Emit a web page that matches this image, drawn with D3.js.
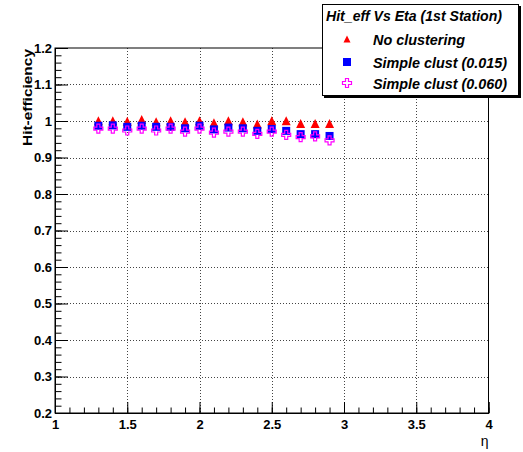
<!DOCTYPE html>
<html><head><meta charset="utf-8">
<script src="https://cdn.jsdelivr.net/npm/d3@7"></script>
<style>
body{margin:0;background:#fff}
svg{display:block}
text{font-family:"Liberation Sans",Arial,Helvetica,sans-serif}
</style>
</head><body><div id="chart"></div>
<script>
// ---- data ----
const eta = [1.3,1.4,1.5,1.6,1.7,1.8,1.9,2.0,2.1,2.2,2.3,2.4,2.5,2.6,2.7,2.8,2.9];
const noClust  = [1.001,1.001,0.999,1.004,0.998,1.001,0.998,1.001,0.995,1.001,0.998,0.992,1.001,1.001,0.993,0.993,0.993];
const clust015 = [0.987,0.988,0.984,0.987,0.984,0.984,0.980,0.987,0.977,0.982,0.980,0.973,0.978,0.973,0.964,0.964,0.959];
const clust060 = [0.979,0.979,0.974,0.979,0.974,0.979,0.971,0.979,0.968,0.971,0.971,0.965,0.971,0.962,0.956,0.958,0.947];
const xTicks = [1,1.5,2,2.5,3,3.5,4];
const yTicks = [0.2,0.3,0.4,0.5,0.6,0.7,0.8,0.9,1.0,1.1,1.2];
const seriesNames = ["No clustering","Simple clust (0.015)","Simple clust (0.060)"];
const seriesColors = ["#ff0000","#0000ff","#ff00ff"];
const legendTitle = "Hit_eff Vs Eta (1st Station)";
const xTitle = "η";
const yTitle = "Hit-efficiency";

// ---- layout ----
const W = 523, H = 452;
const L = 55, R = 488.5, T = 48, B = 413;
const svg = d3.select("#chart").append("svg").attr("width", W).attr("height", H);

const x = d3.scaleLinear().domain([1,4]).range([L,R]);
const y = d3.scaleLinear().domain([0.2,1.2]).range([B,T]);

// grid
const grid = svg.append("g").attr("stroke","#444").attr("stroke-width",1).attr("stroke-dasharray","1,2");
grid.selectAll("line.gx").data(xTicks.slice(1,-1)).enter().append("line")
  .attr("x1",d=>Math.round(x(d))+0.5).attr("x2",d=>Math.round(x(d))+0.5).attr("y1",T).attr("y2",B);
grid.selectAll("line.gy").data(yTicks.slice(1,-1)).enter().append("line")
  .attr("y1",d=>Math.round(y(d))+0.5).attr("y2",d=>Math.round(y(d))+0.5).attr("x1",L).attr("x2",R);

// frame
svg.append("rect").attr("x",L).attr("y",T).attr("width",R-L).attr("height",B-T)
  .attr("fill","none").attr("stroke","#000").attr("stroke-width",1);

// minor ticks
const xMinor = d3.range(1,4.0001,0.1);
const yMinor = d3.range(0.2,1.2001,0.02);
svg.append("g").attr("transform",`translate(0,${B})`)
  .call(d3.axisBottom(x).tickValues(xMinor).tickSize(-5.5).tickFormat(""))
  .call(g=>g.select(".domain").remove());
svg.append("g").attr("transform",`translate(${L},0)`)
  .call(d3.axisLeft(y).tickValues(yMinor).tickSize(-6.5).tickFormat(""))
  .call(g=>g.select(".domain").remove());

// major axes
const fmt = d => String(+d.toFixed(1));
const xAxis = svg.append("g").attr("transform",`translate(0,${B})`)
  .call(d3.axisBottom(x).tickValues(xTicks).tickSize(-11).tickPadding(7).tickFormat(fmt));
const yAxis = svg.append("g").attr("transform",`translate(${L},0)`)
  .call(d3.axisLeft(y).tickValues(yTicks).tickSize(-13).tickPadding(3).tickFormat(fmt));
[xAxis,yAxis].forEach(a=>{
  a.selectAll("text").attr("font-size",13).attr("font-weight","bold").attr("fill","#000")
   .attr("font-family","'Liberation Sans',Arial,sans-serif");
  a.selectAll("line,path").attr("stroke","#000");
});

// axis titles
svg.append("text").attr("x",R).attr("y",446).attr("text-anchor","end")
  .attr("font-size",14).text(xTitle);
svg.append("text").attr("transform",`translate(32,${T+1}) rotate(-90)`).attr("text-anchor","end")
  .attr("font-size",13).attr("font-weight","bold").attr("textLength",97).attr("lengthAdjust","spacingAndGlyphs")
  .text(yTitle);

// markers
function triPath(s){return `M0,${-s}L${s},${s}L${-s},${s}Z`;}
function crossPath(s,a){
  return `M${-a},${-s}H${a}V${-a}H${s}V${a}H${a}V${s}H${-a}V${a}H${-s}V${-a}H${-a}Z`;
}
const series = [noClust, clust015, clust060];
const markers = [
  g=>g.append("path").attr("d",triPath(4.5)).attr("fill",seriesColors[0]),
  g=>g.append("rect").attr("x",-4).attr("y",-4).attr("width",8).attr("height",8).attr("fill",seriesColors[1]),
  g=>g.append("path").attr("d",crossPath(4.5,1.5)).attr("fill","none").attr("stroke",seriesColors[2]).attr("stroke-width",1.2)
];
series.forEach((vals,i)=>{
  const g = svg.append("g");
  vals.forEach((v,j)=>{
    const m = g.append("g").attr("transform",`translate(${x(eta[j])},${y(v)})`);
    markers[i](m);
  });
});

// legend
const lg = svg.append("g");
lg.append("rect").attr("x",324).attr("y",6).attr("width",197).attr("height",92).attr("fill","#000");
lg.append("rect").attr("x",322.5).attr("y",4.5).attr("width",196).attr("height",91)
  .attr("fill","#fff").attr("stroke","#000").attr("stroke-width",1);
lg.append("text").attr("x",326).attr("y",21).attr("font-size",15).attr("font-weight","bold")
  .attr("font-style","italic").attr("textLength",176).attr("lengthAdjust","spacingAndGlyphs").text(legendTitle);
const entryY = [39,62,83];
const entryLen = [92,134,134];
seriesNames.forEach((n,i)=>{
  const m = lg.append("g").attr("transform",`translate(347,${entryY[i]})`);
  if(i===0) m.append("path").attr("d",triPath(3.5)).attr("fill",seriesColors[0]);
  else markers[i](m);
  lg.append("text").attr("x",373).attr("y",entryY[i]+5.5).attr("font-size",15).attr("font-weight","bold")
    .attr("font-style","italic").attr("textLength",entryLen[i]).attr("lengthAdjust","spacingAndGlyphs").text(n);
});
</script>
</body></html>
